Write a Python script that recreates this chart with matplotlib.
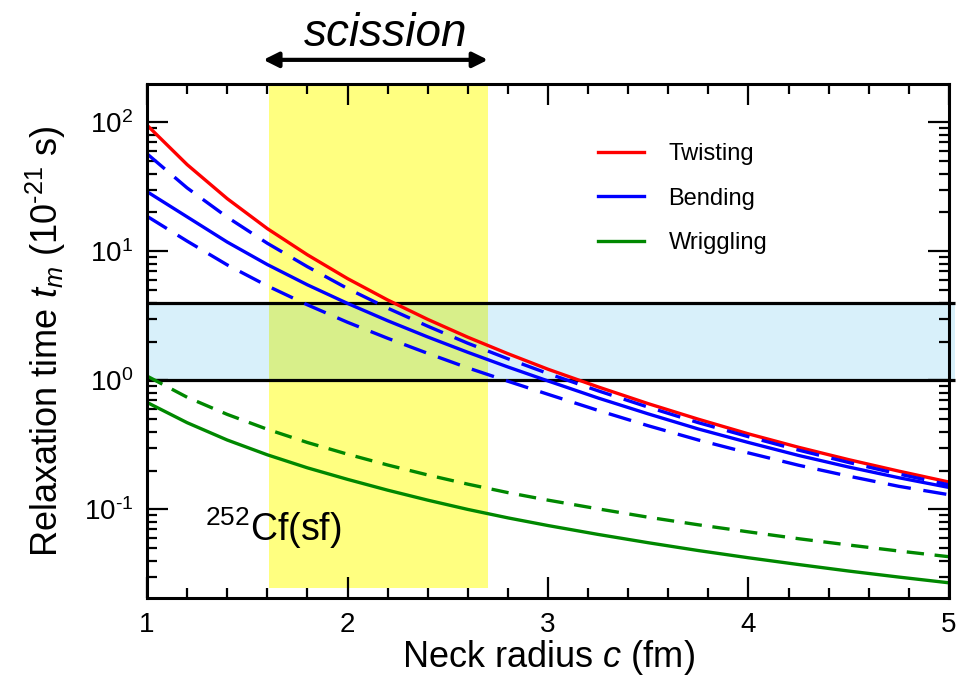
import numpy as np
import matplotlib
matplotlib.use("Agg")
import matplotlib.pyplot as plt
from matplotlib.ticker import LogLocator, MultipleLocator, NullFormatter, FuncFormatter
from matplotlib.patches import Rectangle
from matplotlib.lines import Line2D

plt.rcParams['font.family'] = ['Liberation Sans', 'DejaVu Sans']
plt.rcParams['mathtext.fontset'] = 'custom'
plt.rcParams['mathtext.rm'] = 'Liberation Sans'
plt.rcParams['mathtext.it'] = 'Liberation Sans:italic'
plt.rcParams['mathtext.default'] = 'rm'
plt.rcParams['axes.unicode_minus'] = False

# Neck radius grid (fm)
c_fm = [1.0, 1.2, 1.4, 1.6, 1.8, 2.0, 2.2, 2.4, 2.6, 2.8, 3.0,
        3.25, 3.5, 3.75, 4.0, 4.25, 4.5, 4.75, 5.0]

# Relaxation times (10^-21 s)
twisting = [95, 47, 25.6, 15.0, 9.4, 6.15, 4.2, 2.97, 2.16, 1.61, 1.22,
            0.89, 0.66, 0.50, 0.385, 0.303, 0.243, 0.198, 0.163]
bending = [29, 18.5, 11.8, 7.9, 5.5, 3.95, 2.9, 2.17, 1.65, 1.27, 0.99,
           0.73, 0.55, 0.42, 0.33, 0.262, 0.213, 0.176, 0.148]
bending_hi = [57, 31, 18.4, 11.55, 7.6, 5.15, 3.63, 2.63, 1.94, 1.47, 1.13,
              0.83, 0.62, 0.47, 0.366, 0.288, 0.231, 0.188, 0.155]
bending_lo = [18.7, 12.0, 7.85, 5.4, 3.85, 2.82, 2.12, 1.62, 1.25, 0.985, 0.78,
              0.585, 0.445, 0.345, 0.274, 0.22, 0.181, 0.151, 0.13]
wriggling = [0.675, 0.47, 0.345, 0.265, 0.21, 0.171, 0.141, 0.118, 0.1, 0.086, 0.075,
             0.064, 0.0552, 0.048, 0.0422, 0.0374, 0.0333, 0.0299, 0.027]
wriggling_alt = [1.08, 0.74, 0.545, 0.418, 0.33, 0.268, 0.221, 0.185, 0.157, 0.135, 0.118,
                 0.101, 0.087, 0.076, 0.067, 0.0593, 0.053, 0.0476, 0.043]

# Scission range in neck radius and relaxation-time window
scission_c = [1.61, 2.70]
scission_t = [0.0245, 200]
window_t = [1.0, 4.0]
window_c = [1.0, 5.03]
arrow_c = [1.58, 2.70]

fig = plt.figure(figsize=(9.61, 6.83), dpi=100)
ax = fig.add_axes([0.153, 0.1245, 0.8345, 0.7525])
ax.set_yscale('log')
ax.set_xlim(1, 5)
ax.set_ylim(0.0206, 198)

yellow = '#ffff80'
blue = '#d8f0fa'
overlap = '#d8ef8a'

# Scission band
ax.add_patch(Rectangle((scission_c[0], scission_t[0]), scission_c[1] - scission_c[0],
                       scission_t[1] - scission_t[0], facecolor=yellow, edgecolor='none', zorder=0))
# Relaxation window band
ax.add_patch(Rectangle((window_c[0], window_t[0]), window_c[1] - window_c[0],
                       window_t[1] - window_t[0], facecolor=blue, edgecolor='none', zorder=0,
                       clip_on=False))
# Overlap of the two bands
ax.add_patch(Rectangle((scission_c[0], window_t[0]), scission_c[1] - scission_c[0],
                       window_t[1] - window_t[0], facecolor=overlap, edgecolor='none', zorder=0.5))
for t in window_t:
    ax.plot(window_c, [t, t], color='black', lw=2.3, zorder=1, clip_on=False,
            solid_capstyle='butt')

lw = 2.4
blue_dash = (0, (7.0, 3.8))
green_dash = (0, (5.2, 3.2))
ax.plot(c_fm, twisting, color='#ff0000', lw=lw, zorder=3)
ax.plot(c_fm, bending, color='#0000ff', lw=lw, zorder=3)
ax.plot(c_fm, bending_hi, color='#0000ff', lw=lw, ls=blue_dash, zorder=3)
ax.plot(c_fm, bending_lo, color='#0000ff', lw=lw, ls=blue_dash, zorder=3)
ax.plot(c_fm, wriggling, color='#008800', lw=lw, zorder=3)
ax.plot(c_fm, wriggling_alt, color='#008800', lw=lw, ls=green_dash, zorder=3)


def decade_label(v, pos):
    e = int(round(np.log10(v)))
    exp = r'\text{-}%d' % abs(e) if e < 0 else '%d' % e
    return r'$10^{%s}$' % exp


# Ticks
ax.xaxis.set_major_locator(MultipleLocator(1))
ax.xaxis.set_minor_locator(MultipleLocator(0.2))
ax.yaxis.set_major_locator(LogLocator(base=10, numticks=10))
ax.yaxis.set_major_formatter(FuncFormatter(decade_label))
ax.yaxis.set_minor_locator(LogLocator(base=10, subs=np.arange(2, 10), numticks=20))
ax.yaxis.set_minor_formatter(NullFormatter())
ax.tick_params(which='both', direction='in', top=True, right=True, width=1.6)
ax.tick_params(which='major', length=15, labelsize=20, pad=10)
ax.tick_params(which='minor', length=7.5)
for s in ax.spines.values():
    s.set_linewidth(2.2)
    s.set_zorder(5)

ax.set_xlabel(r'Neck radius $\mathit{c}$ (fm)', fontsize=26, labelpad=0)
ax.set_ylabel(r'Relaxation time $\mathit{t_m}$ (10$^{\text{-}21}$ s)', fontsize=26)
ax.yaxis.set_label_coords(-0.098, 0.5)

# Legend
handles = [Line2D([], [], color='#ff0000', lw=lw),
           Line2D([], [], color='#0000ff', lw=lw),
           Line2D([], [], color='#008800', lw=lw)]
ax.legend(handles, ['Twisting', 'Bending', 'Wriggling'], loc='upper left',
          bbox_to_anchor=(0.562, 0.885), frameon=False, fontsize=17,
          handlelength=1.95, handletextpad=1.05, labelspacing=0.95, borderpad=0,
          borderaxespad=0)

# Scission arrow and label
ax.annotate('', xy=(arrow_c[1], 1.047), xytext=(arrow_c[0], 1.047),
            xycoords=('data', 'axes fraction'), textcoords=('data', 'axes fraction'),
            arrowprops=dict(arrowstyle='<|-|>,head_length=0.9,head_width=0.45',
                            color='black', lw=3, shrinkA=0, shrinkB=0),
            annotation_clip=False)
ax.text(2.19, 1.098, 'scission', transform=ax.get_xaxis_transform(),
        ha='center', va='center', fontsize=33, style='italic')

ax.text(1.29, 0.0565, r'$^{252}$Cf(sf)', fontsize=27, ha='left', va='baseline')

fig.savefig('out.png', dpi=100)
